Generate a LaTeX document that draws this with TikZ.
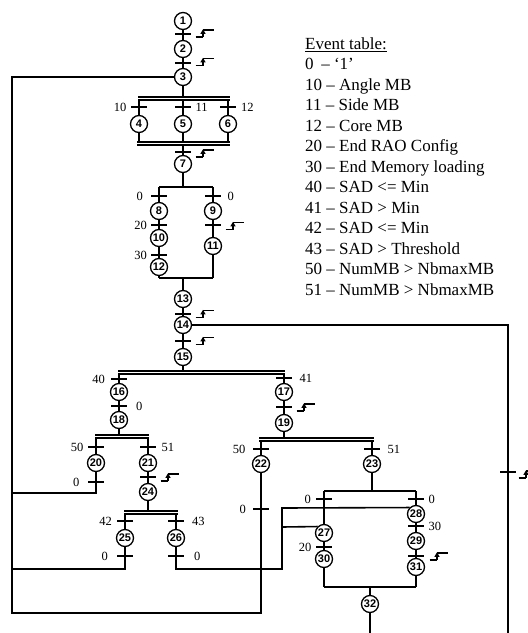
\documentclass[tikz,border=0pt]{standalone}
\usepackage{fontspec}
\setmainfont{Liberation Serif}
\newfontfamily\stepfont{Liberation Sans}
\usetikzlibrary{arrows.meta}
\tikzset{
  redge/.pic={
    \draw[line width=1.3pt] (-7.5,3.6) -- (0,3.6);
    \draw[line width=1.3pt,-{Triangle[length=4.5pt,width=5pt]}] (0,3.6) -- (0,-4.2);
    \draw[line width=1.3pt] (0,-3.6) -- (11,-3.6);
  }
}
\begin{document}
\begin{tikzpicture}[x=1pt,y=-1pt,
  stepnode/.style={circle,draw,line width=1.3pt,minimum size=17pt,inner sep=0pt,fill=white,font=\stepfont\bfseries\fontsize{11}{11}\selectfont},
  trbar/.style={fill=black,draw=none,inner sep=0pt,minimum width=15.5pt,minimum height=1.4pt},
  lnk/.style={line width=1.6pt},
  barA/.style={line width=1.8pt},
  barB/.style={line width=1.1pt},
  lab/.style={inner sep=0pt,font=\fontsize{12.5}{14}\selectfont},
  evt/.style={inner sep=0pt,anchor=base west,font=\fontsize{17}{20}\selectfont}
]
\useasboundingbox (0,0) rectangle (528,633);

% ---------- steps ----------
\node[stepnode] (s1) at (183,21) {1};
\node[stepnode] (s2) at (183,49) {2};
\node[stepnode] (s3) at (183,77) {3};
\node[stepnode] (s4) at (139,124) {4};
\node[stepnode] (s5) at (183,124) {5};
\node[stepnode] (s6) at (228,124) {6};
\node[stepnode] (s7) at (183,164) {7};
\node[stepnode] (s8) at (159,211) {8};
\node[stepnode] (s9) at (213,211) {9};
\node[stepnode] (s10) at (159,238) {10};
\node[stepnode] (s11) at (213,246) {11};
\node[stepnode] (s12) at (159,267) {12};
\node[stepnode] (s13) at (183,299) {13};
\node[stepnode] (s14) at (183,325) {14};
\node[stepnode] (s15) at (183,357) {15};
\node[stepnode] (s16) at (119,392) {16};
\node[stepnode] (s17) at (284,392) {17};
\node[stepnode] (s18) at (119,420) {18};
\node[stepnode] (s19) at (284,423) {19};
\node[stepnode] (s20) at (96,463) {20};
\node[stepnode] (s21) at (148,463) {21};
\node[stepnode] (s22) at (261,464) {22};
\node[stepnode] (s23) at (372,464) {23};
\node[stepnode] (s24) at (148,492) {24};
\node[stepnode] (s25) at (125,538) {25};
\node[stepnode] (s26) at (176,538) {26};
\node[stepnode] (s27) at (324,533) {27};
\node[stepnode] (s28) at (416,514) {28};
\node[stepnode] (s29) at (416,541) {29};
\node[stepnode] (s30) at (324,559) {30};
\node[stepnode] (s31) at (416,567) {31};
\node[stepnode] (s32) at (370,604) {32};

% ---------- transitions ----------
\node[trbar] (t1) at (183,34) {};
\node[trbar] (t2) at (183,63) {};
\node[trbar] (t4) at (139,107) {};
\node[trbar] (t5) at (183,107) {};
\node[trbar] (t6) at (228,107) {};
\node[trbar] (t7) at (183,152) {};
\node[trbar] (t8) at (159,196) {};
\node[trbar] (t9) at (213,196) {};
\node[trbar] (t10) at (159,225) {};
\node[trbar] (t11) at (213,225) {};
\node[trbar] (t12) at (159,255) {};
\node[trbar] (t14) at (183,314) {};
\node[trbar] (t15) at (183,341) {};
\node[trbar] (t16) at (119,379) {};
\node[trbar] (t17) at (284,378) {};
\node[trbar] (t18) at (119,406) {};
\node[trbar] (t19) at (284,407) {};
\node[trbar] (t20) at (96,447) {};
\node[trbar] (t21) at (148,447) {};
\node[trbar] (t20b) at (96,482) {};
\node[trbar] (t24) at (148,477) {};
\node[trbar] (t22) at (261,449) {};
\node[trbar] (t23) at (372,449) {};
\node[trbar] (t22b) at (261,509) {};
\node[trbar] (t25) at (125,521) {};
\node[trbar] (t26) at (176,521) {};
\node[trbar] (t25b) at (125,556) {};
\node[trbar] (t26b) at (176,556) {};
\node[trbar] (t27) at (324,499) {};
\node[trbar] (t28) at (416,499) {};
\node[trbar] (t29) at (416,526) {};
\node[trbar] (t30) at (324,547) {};
\node[trbar] (t31) at (416,556) {};
\node[trbar] (tR) at (508,472) {};

% ---------- event labels ----------
\node[lab,anchor=east] (l4) at ([xshift=-4.5pt]t4.west) {10};
\node[lab,anchor=west] (l5) at ([xshift=4.5pt]t5.east) {11};
\node[lab,anchor=west] (l6) at ([xshift=5pt]t6.east) {12};
\node[lab,anchor=east] (l8) at ([xshift=-8pt]t8.west) {0};
\node[lab,anchor=west] (l9) at ([xshift=6.5pt]t9.east) {0};
\node[lab,anchor=east] (l10) at ([xshift=-4pt]t10.west) {20};
\node[lab,anchor=east] (l12) at ([xshift=-4pt]t12.west) {30};
\node[lab,anchor=east] (l16) at ([xshift=-6pt]t16.west) {40};
\node[lab,anchor=west] (l17) at ([xshift=7.5pt]t17.east) {41};
\node[lab,anchor=west] (l18) at ([xshift=9pt]t18.east) {0};
\node[lab,anchor=east] (l20) at ([xshift=-4.5pt]t20.west) {50};
\node[lab,anchor=west] (l21) at ([xshift=5.5pt]t21.east) {51};
\node[lab,anchor=east] (l20b) at ([xshift=-8.5pt]t20b.west) {0};
\node[lab,anchor=east] (l22) at ([xshift=-7.5pt]t22.west) {50};
\node[lab,anchor=west] (l23) at ([xshift=7.5pt]t23.east) {51};
\node[lab,anchor=east] (l22b) at ([xshift=-7pt]t22b.west) {0};
\node[lab,anchor=east] (l25) at ([xshift=-5pt]t25.west) {42};
\node[lab,anchor=west] (l26) at ([xshift=8pt]t26.east) {43};
\node[lab,anchor=east] (l25b) at ([xshift=-9pt]t25b.west) {0};
\node[lab,anchor=west] (l26b) at ([xshift=10pt]t26b.east) {0};
\node[lab,anchor=east] (l27) at ([xshift=-5pt]t27.west) {0};
\node[lab,anchor=west] (l28) at ([xshift=4.5pt]t28.east) {0};
\node[lab,anchor=west] (l29) at ([xshift=4.5pt]t29.east) {30};
\node[lab,anchor=east] (l30) at ([xshift=-4.5pt]t30.west) {20};

% ---------- rising-edge symbols ----------
\pic at (203,33.5) {redge};
\pic at (203,62) {redge};
\pic at (203,153.5) {redge};
\pic at (233,226) {redge};
\pic at (203,314) {redge};
\pic at (203,341) {redge};
\pic at (304,407.5) {redge};
\pic at (168,477.5) {redge};
\pic at (437,556.5) {redge};
\pic at (526,474.5) {redge};

% ---------- bar coordinates ----------
\coordinate (A1) at (138,97);  \coordinate (A2) at (230,97);
\coordinate (A3) at (138,100); \coordinate (A4) at (230,100);
\coordinate (B1) at (137,142); \coordinate (B2) at (230,142);
\coordinate (B3) at (137,145); \coordinate (B4) at (230,145);
\coordinate (C1) at (159,187); \coordinate (C2) at (213,187);
\coordinate (D1) at (159,278); \coordinate (D2) at (213,278);
\coordinate (E1) at (118,371); \coordinate (E2) at (285,371);
\coordinate (E3) at (118,374); \coordinate (E4) at (285,374);
\coordinate (F1) at (95,435);  \coordinate (F2) at (149,435);
\coordinate (F3) at (95,438);  \coordinate (F4) at (149,438);
\coordinate (G1) at (124,511); \coordinate (G2) at (178,511);
\coordinate (G3) at (124,514); \coordinate (G4) at (178,514);
\coordinate (H1) at (259,438); \coordinate (H2) at (374,438);
\coordinate (H3) at (259,441); \coordinate (H4) at (374,441);
\coordinate (I1) at (324,491); \coordinate (I2) at (416,491);
\coordinate (J1) at (324,587); \coordinate (J2) at (416,587);
% loop coordinates
\coordinate (L1) at (12,77);   \coordinate (L2) at (12,613);  \coordinate (L3) at (261,613);
\coordinate (M1) at (96,493);  \coordinate (M2) at (12,493);
\coordinate (N1) at (125,569); \coordinate (N2) at (12,569);
\coordinate (P1) at (176,569); \coordinate (P2) at (282,569);  \coordinate (P3) at (282,508);
\coordinate (Q1) at (282,527);
\coordinate (R1) at (508,325); \coordinate (R2) at (508,640);
\coordinate (Z1) at (370,640);

% ---------- bars ----------
\draw[barA] (A1) -- (A2); \draw[barB] (A3) -- (A4);
\draw[barA] (B1) -- (B2); \draw[barB] (B3) -- (B4);
\draw[lnk] (C1) -- (C2);
\draw[lnk] (D1) -- (D2);
\draw[barA] (E1) -- (E2); \draw[barB] (E3) -- (E4);
\draw[barA] (F1) -- (F2); \draw[barB] (F3) -- (F4);
\draw[barA] (G1) -- (G2); \draw[barB] (G3) -- (G4);
\draw[barA] (H1) -- (H2); \draw[barB] (H3) -- (H4);
\draw[lnk] (I1) -- (I2);
\draw[lnk] (J1) -- (J2);

% ---------- connectors ----------
\draw[lnk] (s1) -- (s2);
\draw[lnk] (s2) -- (s3);
\draw[lnk] (s3) -- (s3 |- A1);
\draw[lnk] (s4 |- A3) -- (s4);
\draw[lnk] (s5 |- A3) -- (s5);
\draw[lnk] (s6 |- A3) -- (s6);
\draw[lnk] (s4) -- (s4 |- B1);
\draw[lnk] (s5) -- (s5 |- B1);
\draw[lnk] (s6) -- (s6 |- B1);
\draw[lnk] (s7 |- B3) -- (s7);
\draw[lnk] (s7) -- (s7 |- C1);
\draw[lnk] (C1) -- (s8);
\draw[lnk] (C2) -- (s9);
\draw[lnk] (s8) -- (s10);
\draw[lnk] (s10) -- (s12);
\draw[lnk] (s9) -- (s11);
\draw[lnk] (s12) -- (D1);
\draw[lnk] (s11) -- (D2);
\draw[lnk] (s13 |- D1) -- (s13);
\draw[lnk] (s13) -- (s14);
\draw[lnk] (s14) -- (s15);
\draw[lnk] (s15) -- (s15 |- E1);
\draw[lnk] (s16 |- E3) -- (s16);
\draw[lnk] (s17 |- E3) -- (s17);
\draw[lnk] (s16) -- (s18);
\draw[lnk] (s18) -- (s18 |- F1);
\draw[lnk] (s20 |- F3) -- (s20);
\draw[lnk] (s21 |- F3) -- (s21);
\draw[lnk] (s21) -- (s24);
\draw[lnk] (s24) -- (s24 |- G1);
\draw[lnk] (s25 |- G3) -- (s25);
\draw[lnk] (s26 |- G3) -- (s26);
\draw[lnk] (s17) -- (s19);
\draw[lnk] (s19) -- (s19 |- H1);
\draw[lnk] (s22 |- H3) -- (s22);
\draw[lnk] (s23 |- H3) -- (s23);
\draw[lnk] (s23) -- (s23 |- I1);
\draw[lnk] (I1) -- (s27);
\draw[lnk] (I2) -- (s28);
\draw[lnk] (s28) -- (s29);
\draw[lnk] (s29) -- (s31);
\draw[lnk] (s27) -- (s30);
\draw[lnk] (s30) -- (J1);
\draw[lnk] (s31) -- (J2);
\draw[lnk] (s32 |- J1) -- (s32);
\draw[lnk] (s32) -- (Z1);
% loops
\draw[lnk] (s3) -- (L1) -- (L2) -- (L3) -- (s22);
\draw[lnk] (s20) -- (M1) -- (M2);
\draw[lnk] (s25) -- (N1) -- (N2);
\draw[lnk] (s26) -- (P1) -- (P2) -- (P3) -- (s28.135);
\draw[lnk] (Q1) -- (s27.135);
\draw[lnk] (s14) -- (R1) -- (R2);

% ---------- event table ----------
\node[evt] (ev0) at (305,49.3) {\underline{Event table:}};
\node[evt] (ev1) at (305,69.8) {0\hspace{0.45em}– ‘1’};
\node[evt] (ev2) at (305,90.3) {10 – Angle MB};
\node[evt] (ev3) at (305,110.8) {11 – Side MB};
\node[evt] (ev4) at (305,131.3) {12 – Core MB};
\node[evt] (ev5) at (305,151.8) {20 – End RAO Config};
\node[evt] (ev6) at (305,172.3) {30 – End Memory loading};
\node[evt] (ev7) at (305,192.8) {40 – SAD <= Min};
\node[evt] (ev8) at (305,213.3) {41 – SAD > Min};
\node[evt] (ev9) at (305,233.8) {42 – SAD <= Min};
\node[evt] (ev10) at (305,254.3) {43 – SAD > Threshold};
\node[evt] (ev11) at (305,274.8) {50 – NumMB > NbmaxMB};
\node[evt] (ev12) at (305,295.3) {51 – NumMB > NbmaxMB};
\end{tikzpicture}
\end{document}
